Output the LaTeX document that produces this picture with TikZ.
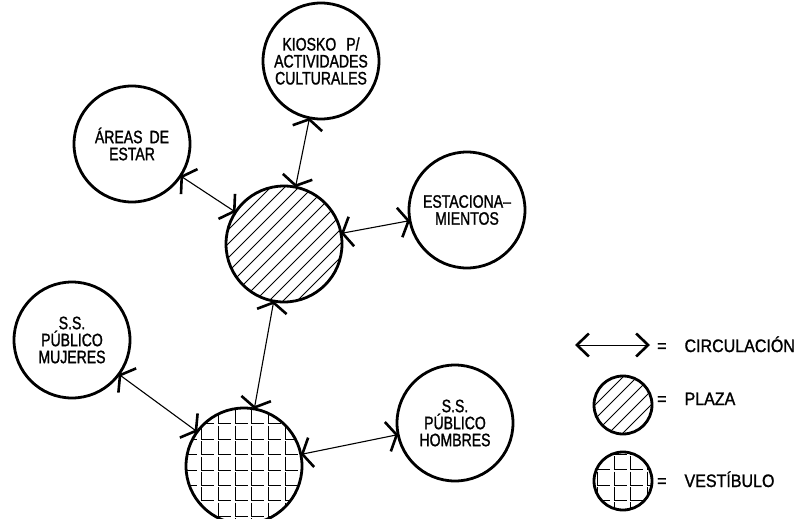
\documentclass[tikz,border=0pt]{standalone}
\usepackage{fontspec}
\setmainfont{Liberation Sans}[FakeStretch=0.78, FakeBold=1.3]
\newfontfamily\legendfont{Liberation Sans}[FakeStretch=0.89, FakeBold=1.3]
\usetikzlibrary{arrows.meta, calc}

\begin{document}
\begin{tikzpicture}[
  x=1pt, y=-1pt,
  bigbarb/.tip={Straight Barb[length=9pt, width=30pt, line width=2.6pt]},
  smallbarb/.tip={Straight Barb[length=12pt, width=23pt, line width=2.6pt]},
  zone/.style={
    draw, circle, line width=2.8pt, minimum size=116pt,
    inner sep=0pt, outer sep=0pt, align=center,
    font=\fontsize{18}{17}\selectfont
  },
  legzone/.style={zone, minimum size=58pt},
  hatch/.style={line width=0.75pt},
  plazafill/.style={path picture={
    \foreach \d in {-168,-154,...,168}
      \draw[hatch] ([shift={(\d-90,90)}]path picture bounding box.center)
        -- ([shift={(\d+90,-90)}]path picture bounding box.center);
  }},
  gridfill/.style={path picture={
    \foreach \i in {-4,...,4}
      \foreach \j in {-4,...,4}
        \draw[hatch] ([shift={(\i*16.7-9,\j*15.4-9.5)}]path picture bounding box.center)
          -- ++(0,13.5) -- ++(12.5,0);
  }},
  flow/.style={bigbarb-bigbarb, line width=1.1pt},
  legflow/.style={smallbarb-smallbarb, line width=1pt},
  legtext/.style={anchor=base west, inner sep=0pt,
    font=\legendfont\fontsize{18}{17}\selectfont},
]

\useasboundingbox (0,0) rectangle (803,519);

% =============================================
% Zones
% =============================================
\node[zone] (kiosko) at (321,61)
  {KIOSKO\hspace{10pt}P/\\ACTIVIDADES\\CULTURALES};
\node[zone] (areas) at (132,144)
  {ÁREAS\hspace{7pt}DE\\ESTAR};
\node[zone] (estac) at (467,210)
  {ESTACIONA--\\MIENTOS};
\node[zone, plazafill] (plaza) at (284,244) {};
\node[zone] (mujeres) at (72,340)
  {S.S.\\PÚBLICO\\MUJERES};
\node[zone] (hombres) at (455,423)
  {S.S.\\PÚBLICO\\HOMBRES};
\node[zone, gridfill] (vestib) at (244,466) {};

% Circulation
\draw[flow] (areas) -- (plaza);
\draw[flow] (kiosko) -- (plaza);
\draw[flow] (estac) -- (plaza);
\draw[flow] (plaza) -- (vestib);
\draw[flow] (mujeres) -- (vestib);
\draw[flow] (hombres) -- (vestib);

% =============================================
% Legend
% =============================================
\coordinate (cleft) at (575,345);
\coordinate (cright) at (650,345);
\draw[legflow] (cleft) -- (cright);
\node[legtext] (tcirc) at (657,352) {=\hspace{18pt}CIRCULACIÓN};

\node[legzone, plazafill] (legplaza) at (623,405) {};
\node[legtext] (tplaza) at (657,405) {=\hspace{18pt}PLAZA};

\node[legzone, gridfill] (legvest) at (623,481) {};
\node[legtext] (tvest) at (657,487) {=\hspace{18pt}VESTÍBULO};

\end{tikzpicture}
\end{document}
